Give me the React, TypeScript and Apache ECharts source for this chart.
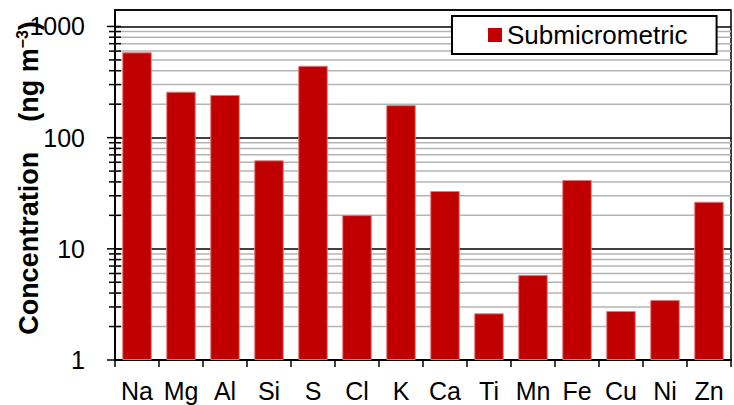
import React, { useEffect, useRef } from "react";
import * as echarts from "echarts";

// Elements on the x axis
const elements = ["Na", "Mg", "Al", "Si", "S", "Cl", "K", "Ca", "Ti", "Mn", "Fe", "Cu", "Ni", "Zn"];

// Submicrometric concentrations (ng m-3)
const submicrometric = [585, 259, 242, 62.5, 443, 20.1, 196, 33.1, 2.63, 5.81, 41.6, 2.76, 3.46, 26.5];

// Log-axis decades (labelled) and the in-between minor positions
const majorTickValues = [1, 10, 100, 1000];
const minorTickValues = [
  2, 3, 4, 5, 6, 7, 8, 9,
  20, 30, 40, 50, 60, 70, 80, 90,
  200, 300, 400, 500, 600, 700, 800, 900,
];

const FONT = "'Liberation Sans', Arial, Helvetica, sans-serif";

export default function App() {
  const ref = useRef<HTMLDivElement>(null);

  useEffect(() => {
    if (!ref.current) return;
    const chart = echarts.init(ref.current, undefined, { renderer: "svg" });

    const tickData = [
      ...majorTickValues.map((v) => [0, v, 1]),
      ...minorTickValues.map((v) => [0, v, 0]),
    ];

    chart.setOption({
      animation: false,
      backgroundColor: "#ffffff",
      textStyle: { fontFamily: FONT },
      grid: {
        left: 115,
        right: 3,
        top: 10,
        bottom: 45,
        containLabel: false,
        outerBoundsMode: "none",
        show: true,
        borderColor: "#000",
        borderWidth: 1.5,
        backgroundColor: "transparent",
      },
      legend: {
        data: ["Submicrometric"],
        left: 452,
        top: 16,
        padding: [6, 29, 6, 36],
        backgroundColor: "#ffffff",
        borderColor: "#000",
        borderWidth: 2,
        borderRadius: 0,
        itemWidth: 14,
        itemHeight: 14,
        itemGap: 6,
        icon: "rect",
        itemStyle: { borderWidth: 0 },
        textStyle: { fontSize: 26, color: "#000", fontFamily: FONT },
      },
      xAxis: {
        type: "category",
        data: elements,
        axisLine: { lineStyle: { color: "#000", width: 2 } },
        axisTick: { show: true, length: 7, lineStyle: { color: "#000", width: 1.5 } },
        axisLabel: { interval: 0, fontSize: 25, color: "#000", margin: 18, fontFamily: FONT },
        splitLine: { show: false },
      },
      yAxis: {
        type: "log",
        logBase: 10,
        min: 1,
        max: 1406,
        name: "{t|Concentration    (ng m}{s|−3}{t|)}",
        nameLocation: "middle",
        nameGap: 71,
        nameRotate: 90,
        nameMoveOverlap: false,
        nameTextStyle: {
          padding: [0, 0, 0, 14],
          rich: {
            t: { fontSize: 27, fontWeight: "bold", color: "#000", fontFamily: FONT, lineHeight: 30 },
            s: { fontSize: 16, fontWeight: "bold", color: "#000", fontFamily: FONT, verticalAlign: "top", lineHeight: 30 },
          },
        },
        axisLine: { show: true, lineStyle: { color: "#000", width: 2 } },
        axisTick: { show: false },
        axisLabel: {
          fontSize: 25,
          color: "#000",
          margin: 30,
          fontFamily: FONT,
          showMaxLabel: false,
          formatter: (v: number) => String(Math.round(v)),
        },
        splitLine: { show: true, lineStyle: { color: "#000", width: 1.5 } },
      },
      series: [
        {
          name: "ticks",
          type: "custom",
          z: 1,
          silent: true,
          encode: { x: 0, y: 1 },
          data: tickData,
          renderItem: (params: any, api: any) => {
            const y = api.coord([0, api.value(1)])[1];
            const cs = params.coordSys;
            const major = api.value(2) === 1;
            const children: any[] = [];
            if (!major) {
              children.push({
                type: "line",
                shape: { x1: cs.x, y1: y, x2: cs.x + cs.width, y2: y },
                style: { stroke: "#b4b4b4", lineWidth: 1.5 },
              });
            }
            children.push({
              type: "line",
              shape: { x1: cs.x - (major ? 8 : 6), y1: y, x2: cs.x + 6, y2: y },
              style: { stroke: "#000", lineWidth: 1.5 },
            });
            return { type: "group", children };
          },
        },
        {
          name: "Submicrometric",
          type: "bar",
          z: 2,
          data: submicrometric,
          barCategoryGap: "33%",
          itemStyle: { color: "#c00000", borderColor: "#e07878", borderWidth: 1 },
        },
      ],
    });

    return () => chart.dispose();
  }, []);

  return (
    <div
      ref={ref}
      style={{ position: "fixed", left: 0, top: 0, width: 734, height: 405 }}
    />
  );
}
